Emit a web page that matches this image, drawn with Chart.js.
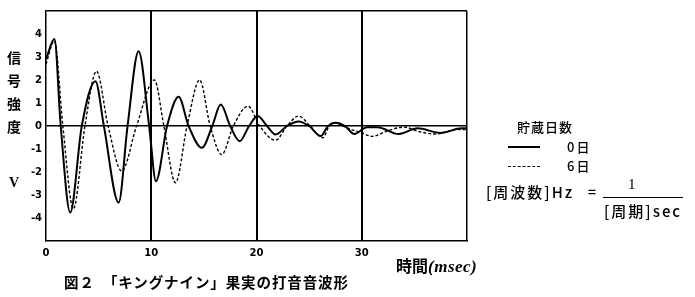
<!DOCTYPE html>
<html>
<head>
<meta charset="utf-8">
<script src="https://cdn.jsdelivr.net/npm/chart.js@4/dist/chart.umd.min.js"></script>
<style>
  body { margin: 0; background: #fff; }
  #wrap { position: relative; width: 695px; height: 297px; font-family: "Noto Sans CJK JP", sans-serif; color: #000; }
  #wrap canvas { position: absolute; left: 0; top: 0; }
  .t { position: absolute; white-space: nowrap; line-height: 1; font-weight: 700; }
  .c { transform: translate(-50%, -50%); }
  .ln { position: absolute; width: 32px; height: 0; }
</style>
</head>
<body>
<div id="wrap">
  <canvas id="chart-wave" width="695" height="297"></canvas>

  <div class="t c" style="left:14px; top:57px; font-size:14px;">信</div>
  <div class="t c" style="left:14px; top:80px; font-size:14px;">号</div>
  <div class="t c" style="left:14px; top:103px; font-size:14px;">強</div>
  <div class="t c" style="left:14px; top:126px; font-size:14px;">度</div>
  <div class="t c" style="left:14px; top:183px; font-size:14px; font-family:'Liberation Serif',serif;">V</div>

  <div class="t" style="left:396px; top:257px; font-size:16px;">時間<span style="font-family:'Liberation Serif',serif; font-style:italic; font-size:17px; letter-spacing:0.5px;">(msec)</span></div>
  <div class="t" style="left:64px; top:275px; font-size:14.5px; letter-spacing:0.9px;">図２　「キングナイン」果実の打音音波形</div>

  <div class="t" style="left:517px; top:120px; font-size:13px; font-weight:500; letter-spacing:1px;">貯蔵日数</div>
  <div class="ln" style="left:508px; top:146px; border-top:2px solid #000;"></div>
  <div class="t" style="left:567px; top:140px; font-size:13px; font-weight:500; letter-spacing:2px;">0日</div>
  <div class="ln" style="left:508px; top:166px; border-top:1.5px dashed #000;"></div>
  <div class="t" style="left:567px; top:159px; font-size:13px; font-weight:500; letter-spacing:2px;">6日</div>
  <div class="t" style="left:486px; top:184px; font-size:15px; font-weight:500; letter-spacing:2px;">[周波数]Hz</div>
  <div class="t" style="left:588px; top:184px; font-size:14px; font-weight:500;">=</div>
  <div class="t" style="left:628px; top:177px; font-size:15px; font-weight:500; font-family:'Liberation Serif',serif;">1</div>
  <div style="position:absolute; left:603px; top:197px; width:80px; border-top:1.5px solid #000;"></div>
  <div class="t" style="left:604px; top:203px; font-size:15px; font-weight:500; letter-spacing:2px;">[周期]sec</div>
</div>
<script>
const timeSolid = [0, 0.8, 1.4, 2.3, 3.4, 4.7, 5.5, 6.9, 7.75, 8.8, 9.8, 10.45, 11.5, 12.6, 13.55, 14.8, 15.8, 16.6, 17.5, 18.4, 19.3, 20.1, 21.0, 21.8, 22.9, 24.0, 25.0, 26.1, 26.8, 27.5, 28.4, 29.3, 30.5, 31.5, 33.5, 35.3, 37.5, 39.5, 40];
const valueSolid = [2.9, 3.78, 0, -3.76, 0, 1.95, 0, -3.33, 0, 3.25, 0, -2.4, 0, 1.27, 0, -0.95, 0, 0.93, 0, -0.66, 0, 0.43, 0, -0.37, 0, 0.2, 0, -0.44, 0, 0.14, 0, -0.35, -0.05, -0.05, -0.35, -0.1, -0.3, -0.1, -0.1];

const timeDashed = [0, 0.8, 1.6, 2.6, 3.7, 4.8, 5.9, 7.2, 8.6, 10.3, 11.2, 12.3, 13.4, 14.6, 15.6, 16.7, 17.8, 19.2, 20.3, 21.8, 22.9, 24.0, 25.1, 26.3, 26.9, 27.5, 28.2, 29.0, 30.0, 31.0, 32.5, 34.0, 35.5, 37.0, 39.0, 40];
const valueDashed = [2.7, 3.7, 0, -3.6, 0, 2.38, 0, -1.96, 0, 2.0, 0, -2.47, 0, 2.0, 0, -1.24, 0, 0.86, 0, -0.62, 0, 0.43, 0, -0.51, 0, 0.14, 0, -0.15, -0.3, -0.45, -0.2, -0.05, -0.25, -0.35, -0.15, -0.15];

const xTickLabels = [0, 10, 20, 30];
const yTickLabels = [-4, -3, -2, -1, 0, 1, 2, 3, 4];

const waveCanvas = document.querySelector("#chart-wave");

const toPoints = (xs, ys) => xs.map((x, i) => ({ x: x, y: ys[i] }));

const tickFont = { family: "DejaVu Sans", size: 10, weight: "bold" };

const chartWave = new Chart(waveCanvas, {
  type: "line",
  data: {
    datasets: [
      {
        label: "0日",
        data: toPoints(timeSolid, valueSolid),
        borderColor: "#000",
        borderWidth: 2,
        pointRadius: 0,
        cubicInterpolationMode: "monotone",
      },
      {
        label: "6日",
        data: toPoints(timeDashed, valueDashed),
        borderColor: "#000",
        borderWidth: 1.4,
        borderDash: [3, 2],
        pointRadius: 0,
        cubicInterpolationMode: "monotone",
      },
    ],
  },
  options: {
    responsive: false,
    animation: false,
    layout: { padding: { top: 11, right: 228, left: 0, bottom: 0 } },
    plugins: {
      legend: { display: false },
      tooltip: { enabled: false },
    },
    scales: {
      x: {
        type: "linear",
        min: 0,
        max: 40,
        afterFit: (scale) => { scale.height = 56; },
        ticks: {
          stepSize: 10,
          color: "#000",
          font: tickFont,
          padding: 6,
          maxRotation: 0,
          callback: (v) => (xTickLabels.includes(v) ? v : ""),
        },
        grid: {
          drawTicks: false,
          color: (ctx) => (ctx.tick && ctx.tick.value > 0 ? "#000" : "rgba(0,0,0,0)"),
          lineWidth: (ctx) => (ctx.tick && ctx.tick.value < 40 ? 2 : 1.5),
        },
        border: { color: "#000", width: 1.5 },
      },
      y: {
        min: -5,
        max: 5,
        afterFit: (scale) => { scale.width = 46; },
        ticks: {
          stepSize: 1,
          color: "#000",
          font: tickFont,
          padding: 4,
          callback: (v) => (yTickLabels.includes(v) ? v : ""),
        },
        grid: {
          drawTicks: false,
          color: (ctx) => (ctx.tick && (ctx.tick.value === 0 || ctx.tick.value === 5) ? "#000" : "rgba(0,0,0,0)"),
          lineWidth: 1.5,
        },
        border: { color: "#000", width: 1.5 },
      },
    },
  },
});
</script>
</body>
</html>
